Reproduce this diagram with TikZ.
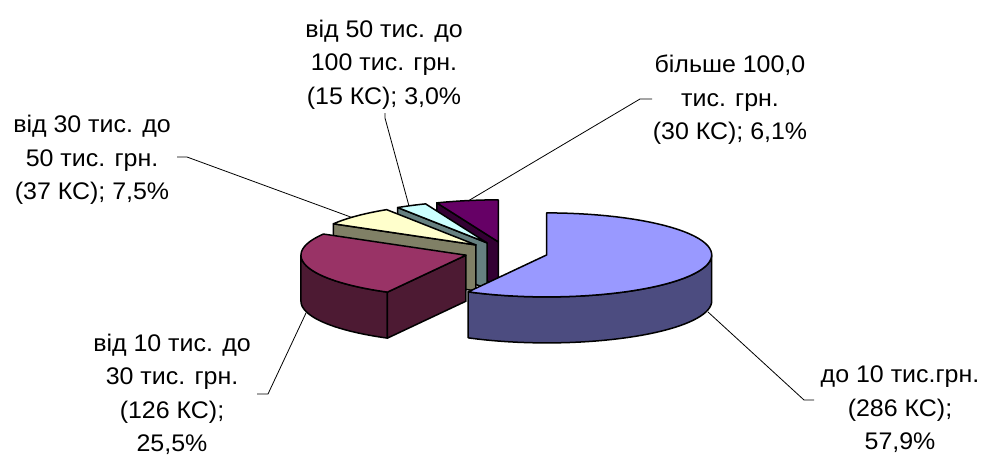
\documentclass[tikz,border=0pt]{standalone}
\usepackage{fontspec}
\setmainfont{Liberation Sans}
\newfontfamily\lblfont[FakeStretch=1.04]{Liberation Sans}
\definecolor{bluetop}{HTML}{9999FF}\definecolor{blueside}{HTML}{4C4C80}
\definecolor{redtop}{HTML}{993366}\definecolor{redside}{HTML}{4D1A33}
\definecolor{yeltop}{HTML}{FFFFCC}\definecolor{yelside}{HTML}{808066}
\definecolor{cyantop}{HTML}{CCFFFF}\definecolor{cyanside}{HTML}{668080}
\definecolor{purtop}{HTML}{660066}\definecolor{purside}{HTML}{330033}
\def\RX{165}\def\RY{42}\def\DP{46}
\def\CX{506.2}\def\CY{252.3}\def\DD{41.8}
% back wedge: start cut face + top face
\newcommand\backwedge[5]{%
 \begin{scope}[shift={({\CX+\DD*sin(#3)},{\CY-\DD*cos(#3)*\RY/\RX})}]
  \filldraw[edge, fill=#5] (0,0) -- ({\RX*sin(#1)},{-\RY*cos(#1)}) -- ++(0,\DP) -- (0,\DP) -- cycle;
  \filldraw[edge, fill=#4] (0,0) -- plot[domain=#1:#2, samples=30] ({\RX*sin(\x)},{-\RY*cos(\x)}) -- cycle;
 \end{scope}}
\begin{document}
\begin{tikzpicture}[x=1pt,y=-1pt,
  edge/.style={draw=black, line width=1.5pt, line join=round},
  lbl/.style={font=\lblfont\fontsize{24}{33.5}\selectfont, align=center, inner sep=0pt, anchor=north, text=black},
  leader/.style={draw=black, line width=0.8pt}]
\useasboundingbox[fill=white] (0,0) rectangle (988,455);

% purple, cyan, yellow (back slices)
\backwedge{338.14}{360}{349.07}{purtop}{purside}
\backwedge{327.21}{338.14}{332.67}{cyantop}{cyanside}
\backwedge{300.24}{327.21}{313.72}{yeltop}{yelside}

% red slice
\begin{scope}[shift={({\CX+\DD*sin(254.33)},{\CY-\DD*cos(254.33)*\RY/\RX})}]
 \filldraw[edge, fill=redside] plot[domain=208.42:270, samples=30] ({\RX*sin(\x)},{-\RY*cos(\x)})
   -- plot[domain=270:208.42, samples=30] ({\RX*sin(\x)},{-\RY*cos(\x)+\DP}) -- cycle;
 \filldraw[edge, fill=redside] (0,0) -- ({\RX*sin(208.42)},{-\RY*cos(208.42)}) -- ++(0,\DP) -- (0,\DP) -- cycle;
 \filldraw[edge, fill=redtop] (0,0) -- plot[domain=208.42:300.24, samples=40] ({\RX*sin(\x)},{-\RY*cos(\x)}) -- cycle;
\end{scope}

% blue slice
\begin{scope}[shift={({\CX+\DD*sin(104.21)},{\CY-\DD*cos(104.21)*\RY/\RX})}]
 \filldraw[edge, fill=blueside] plot[domain=90:208.42, samples=40] ({\RX*sin(\x)},{-\RY*cos(\x)})
   -- plot[domain=208.42:90, samples=40] ({\RX*sin(\x)},{-\RY*cos(\x)+\DP}) -- cycle;
 \filldraw[edge, fill=bluetop] (0,0) -- plot[domain=0:208.42, samples=60] ({\RX*sin(\x)},{-\RY*cos(\x)}) -- cycle;
\end{scope}

% labels
\node[lbl] (lcyan) at (384,19.5) {від 50 тис. до\\100 тис. грн.\\(15 КС); 3,0\%};
\node[lbl] (lpur) at (730,55) {більше 100,0\\тис. грн.\\(30 КС); 6,1\%};
\node[lbl] (lyel) at (92,115) {від 30 тис. до\\50 тис. грн.\\(37 КС); 7,5\%};
\node[lbl] (lred) at (172,333.5) {від 10 тис. до\\30 тис. грн.\\(126 КС);\\25,5\%};
\node[lbl] (lblue) at (900,366) {до 10 тис.грн.\\(286 КС);\\57,9\%};

% leader points
\coordinate (c1) at (385,113); \coordinate (c2) at (385,118); \coordinate (c3) at (409,206);
\coordinate (p1) at (652,99);  \coordinate (p2) at (640,99);  \coordinate (p3) at (468,201);
\coordinate (y1) at (177,157); \coordinate (y2) at (187,157); \coordinate (y3) at (352,217.5);
\coordinate (r1) at (257,394); \coordinate (r2) at (268,394); \coordinate (r3) at (306,313);
\coordinate (b1) at (708,312); \coordinate (b2) at (804,400); \coordinate (b3) at (814,400);

\draw[leader] (c1) -- (c2) -- (c3);
\draw[leader] (p1) -- (p2) -- (p3);
\draw[leader] (y1) -- (y2) -- (y3);
\draw[leader] (r1) -- (r2) -- (r3);
\draw[leader] (b3) -- (b2) -- (b1);
\end{tikzpicture}
\end{document}
